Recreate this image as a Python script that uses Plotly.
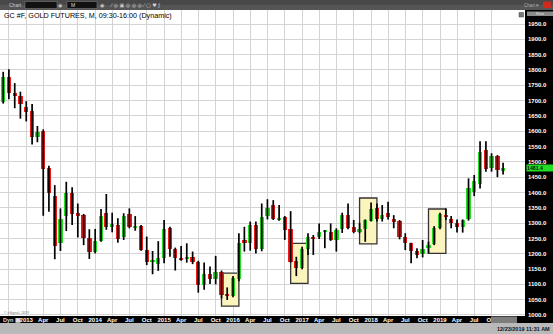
import plotly.graph_objects as go
import pandas as pd

# ---------------- data (monthly GC #F candles, Sep 2012 .. Dec 2019) ----------------
months = pd.date_range("2012-09-01", periods=88, freq="MS")

open_ = [1696, 1776, 1724, 1716, 1680, 1666, 1582, 1602, 1479, 1390, 1236, 1322,
         1397, 1332, 1326, 1252, 1205, 1243, 1334, 1286, 1294, 1253, 1329, 1283,
         1290, 1212, 1174, 1168, 1185, 1285, 1216, 1184, 1184, 1190, 1174, 1098,
         1134, 1116, 1141, 1068, 1062, 1116, 1245, 1236, 1294, 1214, 1323, 1359,
         1312, 1321, 1280, 1177, 1152, 1214, 1256, 1253, 1272, 1272, 1245, 1280,
         1326, 1286, 1271, 1280, 1308, 1348, 1315, 1334, 1315, 1308, 1256, 1234,
         1209, 1199, 1218, 1232, 1283, 1326, 1315, 1301, 1288, 1312, 1403, 1428,
         1538, 1480, 1519, 1470]
high = [1794, 1802, 1757, 1729, 1698, 1689, 1617, 1606, 1487, 1424, 1348, 1435,
        1417, 1364, 1330, 1280, 1281, 1346, 1395, 1334, 1316, 1332, 1348, 1323,
        1294, 1256, 1209, 1241, 1310, 1288, 1220, 1225, 1234, 1207, 1177, 1171,
        1158, 1193, 1145, 1090, 1127, 1267, 1288, 1305, 1305, 1364, 1378, 1375,
        1359, 1323, 1339, 1190, 1223, 1267, 1261, 1299, 1277, 1299, 1283, 1334,
        1364, 1310, 1301, 1312, 1367, 1364, 1359, 1370, 1326, 1310, 1267, 1236,
        1218, 1245, 1239, 1290, 1334, 1348, 1323, 1312, 1312, 1446, 1457, 1567,
        1567, 1528, 1522, 1497]
low = [1690, 1704, 1675, 1641, 1632, 1557, 1564, 1324, 1337, 1182, 1209, 1274,
       1294, 1253, 1228, 1183, 1201, 1239, 1278, 1270, 1236, 1245, 1283, 1275,
       1210, 1163, 1133, 1144, 1169, 1190, 1145, 1177, 1171, 1166, 1073, 1082,
       1101, 1100, 1054, 1049, 1058, 1110, 1207, 1210, 1201, 1208, 1312, 1310,
       1308, 1245, 1171, 1127, 1149, 1196, 1196, 1248, 1218, 1242, 1207, 1268,
       1280, 1267, 1267, 1239, 1305, 1305, 1305, 1312, 1283, 1247, 1212, 1169,
       1185, 1188, 1201, 1228, 1280, 1310, 1283, 1269, 1269, 1308, 1388, 1413,
       1468, 1468, 1450, 1459]
close = [1778, 1724, 1714, 1688, 1662, 1582, 1598, 1476, 1397, 1225, 1312, 1397,
         1330, 1326, 1250, 1205, 1243, 1323, 1286, 1297, 1247, 1324, 1286, 1290,
         1212, 1174, 1177, 1185, 1281, 1214, 1185, 1182, 1190, 1174, 1098, 1134,
         1116, 1141, 1065, 1062, 1120, 1236, 1236, 1294, 1214, 1321, 1350, 1312,
         1318, 1277, 1174, 1152, 1214, 1256, 1250, 1272, 1276, 1245, 1277, 1326,
         1284, 1271, 1280, 1310, 1345, 1315, 1325, 1321, 1305, 1253, 1236, 1210,
         1196, 1214, 1228, 1283, 1330, 1319, 1301, 1288, 1310, 1413, 1438, 1533,
         1476, 1518, 1474, 1481.4]

# highlighted regions: (start month, end month, low price, high price)
highlight_start = ["2015-11-01", "2016-11-01", "2017-11-01", "2018-11-01"]
highlight_end = ["2016-02-01", "2017-02-01", "2018-02-01", "2019-02-01"]
highlight_low = [1029, 1103, 1232, 1201]
highlight_high = [1137, 1234, 1382, 1346]

price_ticks = list(range(1000, 1951, 50))
quarter_ticks = pd.date_range("2012-10-01", "2019-10-01", freq="QS-JAN")
quarter_text = ["" if d.year == 2012 else (str(d.year) if d.month == 1 else d.strftime("%b"))
                for d in quarter_ticks]

# ---------------- geometry helpers (pixels -> paper) ----------------
W, H = 553, 334
ML, MR, MT, MB = 0, 28, 10, 18
PW, PH = W - ML - MR, H - MT - MB


def px(x):
    return (x - ML) / PW


def py(y):
    return (MT + PH - y) / PH


GREEN = "#22dd22"
RED = "#ee1a1a"
FONT = "Liberation Sans"

fig = go.Figure()

# wicks
wx, wy = [], []
for d, lo, hi in zip(months, low, high):
    wx += [d, d, None]
    wy += [lo, hi, None]
fig.add_trace(go.Scatter(x=wx, y=wy, mode="lines", line=dict(color="black", width=1.7),
                         hoverinfo="skip", showlegend=False))

# bodies
bar_w = 23 * 86400000
for up, col in [(True, GREEN), (False, RED)]:
    xs, bases, hs = [], [], []
    for d, o, c in zip(months, open_, close):
        if (c >= o) == up:
            xs.append(d)
            bases.append(min(o, c))
            hs.append(max(abs(c - o), 2.5))
    fig.add_trace(go.Bar(x=xs, y=hs, base=bases, width=bar_w, marker=dict(color=col, line=dict(width=0)),
                         hoverinfo="skip", showlegend=False))

shapes = []
# highlight boxes
for x0, x1, y0, y1 in zip(highlight_start, highlight_end, highlight_low, highlight_high):
    shapes.append(dict(type="rect", xref="x", yref="y", x0=x0, x1=x1, y0=y0, y1=y1,
                       fillcolor="#fbf4bd", line=dict(color="#333333", width=1.3), layer="between"))

# top tool bar
shapes.append(dict(type="rect", xref="paper", yref="paper", x0=px(0), x1=px(W), y0=py(10), y1=py(0),
                   fillcolor="#555555", line=dict(width=0), layer="below"))
shapes.append(dict(type="rect", xref="paper", yref="paper", x0=px(0), x1=px(W), y0=py(5), y1=py(0),
                   fillcolor="#484848", line=dict(width=0), layer="below"))
for a, b in [(25, 57), (67, 97)]:
    shapes.append(dict(type="rect", xref="paper", yref="paper", x0=px(a), x1=px(b), y0=py(8.5), y1=py(1.5),
                       fillcolor="#111111", line=dict(color="#888888", width=0.5), layer="below"))
shapes.append(dict(type="rect", xref="paper", yref="paper", x0=px(543), x1=px(551), y0=py(8), y1=py(1.5),
                   fillcolor="#cc2a1e", line=dict(width=0), layer="below"))
# bottom status bar
shapes.append(dict(type="rect", xref="paper", yref="paper", x0=px(0), x1=px(W), y0=py(H), y1=py(323),
                   fillcolor="#b9b9b9", line=dict(width=0), layer="below"))
# right header box + small icon
shapes.append(dict(type="rect", xref="paper", yref="paper", x0=px(527), x1=px(553), y0=py(16), y1=py(11.5),
                   fillcolor="#8a8a8a", line=dict(width=0), layer="below"))
shapes.append(dict(type="rect", xref="paper", yref="paper", x0=px(519), x1=px(523.5), y0=py(17), y1=py(12.5),
                   fillcolor="#777777", line=dict(color="#444444", width=0.5), layer="above"))
# scroll box in the time axis
shapes.append(dict(type="rect", xref="paper", yref="paper", x0=px(491), x1=px(517), y0=py(323), y1=py(316.5),
                   fillcolor="#7d7d7d", line=dict(width=0), layer="above"))

annotations = [
    dict(text="GC #F, GOLD FUTURES, M, 09:30-16:00 (Dynamic)", xref="paper", yref="paper",
         x=px(1.5), y=py(15.5), xanchor="left", yanchor="middle", showarrow=False,
         font=dict(family=FONT, size=7.2, color="black")),
    dict(text="Chart", xref="paper", yref="paper", x=px(7), y=py(5), xanchor="left", yanchor="middle",
         showarrow=False, font=dict(family=FONT, size=5, color="#c8c8c8")),
    dict(text="M", xref="paper", yref="paper", x=px(69), y=py(5), xanchor="left", yanchor="middle",
         showarrow=False, font=dict(family=FONT, size=5, color="#dddddd")),
    dict(text="◉", xref="paper", yref="paper", x=px(60), y=py(5), xanchor="center", yanchor="middle",
         showarrow=False, font=dict(family="DejaVu Sans", size=5, color="#cccccc")),
    dict(text="◉", xref="paper", yref="paper", x=px(102), y=py(5), xanchor="center", yanchor="middle",
         showarrow=False, font=dict(family="DejaVu Sans", size=5, color="#cccccc")),
    dict(text="⁄ ◎ ▣ ◎ ◎ ◎ ⁄ ▢ ♥ ƒ", xref="paper", yref="paper", x=px(108), y=py(5), xanchor="left",
         yanchor="middle", showarrow=False, font=dict(family="DejaVu Sans", size=5, color="#d0d0d0")),
    dict(text="Chart ▾", xref="paper", yref="paper", x=px(541), y=py(5), xanchor="right", yanchor="middle",
         showarrow=False, font=dict(family=FONT, size=4.5, color="#aaaaaa")),
    dict(text="Price", xref="paper", yref="paper", x=px(540), y=py(13.8), xanchor="center", yanchor="middle",
         showarrow=False, font=dict(family=FONT, size=3.5, color="#eeeeee")),
    dict(text="Dyn ▦", xref="paper", yref="paper", x=px(1), y=py(319.8), xanchor="left", yanchor="middle",
         showarrow=False, font=dict(family=FONT, size=5.5, color="#dddddd", weight="bold")),
    dict(text="© eSignal, 2019", xref="paper", yref="paper", x=px(1.5), y=py(313), xanchor="left",
         yanchor="middle", showarrow=False, font=dict(family=FONT, size=3.5, color="#777777")),
    dict(text="12/23/2019 11:31 AM", xref="paper", yref="paper", x=px(552), y=py(328.5), xanchor="right",
         yanchor="middle", showarrow=False, font=dict(family=FONT, size=5.5, color="#111111", weight="bold")),
    dict(text=f"{close[-1]:.1f}", xref="paper", yref="y", x=px(525.5), y=close[-1], xanchor="left",
         yanchor="middle", showarrow=False, bgcolor=GREEN, width=26, height=6, borderpad=0, align="left",
         font=dict(family=FONT, size=5.2, color="#111111", weight="bold")),
]

fig.update_layout(
    width=W, height=H,
    margin=dict(l=ML, r=MR, t=MT, b=MB, pad=0),
    paper_bgcolor="black", plot_bgcolor="white",
    barmode="overlay", bargap=0,
    showlegend=False,
    shapes=shapes, annotations=annotations,
    xaxis=dict(type="date", range=["2012-08-15", "2020-03-26"], tickvals=list(quarter_ticks),
               ticktext=quarter_text, showgrid=True, gridcolor="#d4d4d4", gridwidth=1,
               ticks="", showline=False, zeroline=False, fixedrange=True,
               tickfont=dict(family=FONT, size=6, color="white", weight="bold"), ticklabelstandoff=-1),
    yaxis=dict(side="right", range=[996.7, 1995.7], tickvals=price_ticks,
               ticktext=[f"{v:.1f}" for v in price_ticks], showgrid=True, gridcolor="#d4d4d4",
               gridwidth=1, ticks="", showline=False, zeroline=False, fixedrange=True,
               tickfont=dict(family=FONT, size=6, color="white", weight="bold"), ticklabelstandoff=2),
)

fig.write_html("out.html")
